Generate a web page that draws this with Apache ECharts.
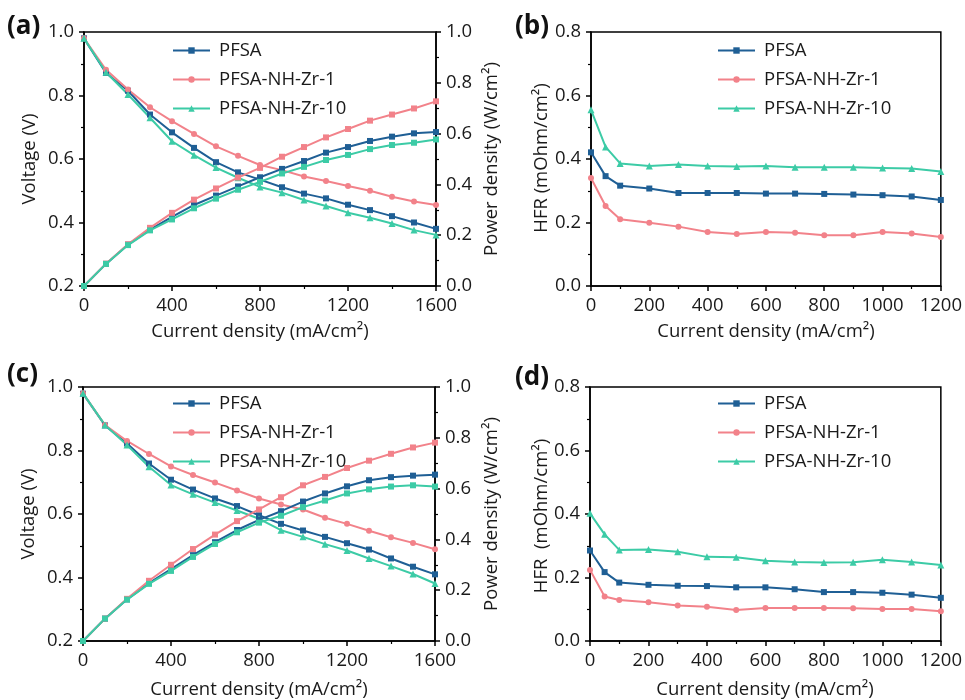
<!DOCTYPE html>
<html>
<head>
<meta charset="utf-8">
<script src="https://cdn.jsdelivr.net/npm/echarts@6/dist/echarts.min.js"></script>
<style>
  html, body { margin: 0; padding: 0; background: #fff; }
  #chart { width: 965px; height: 700px; }
</style>
</head>
<body>
<div id="chart"></div>
<script>
// ---- Polarization data (current density in mA/cm²) ----
const currentPol = [0, 100, 200, 300, 400, 500, 600, 700, 800, 900, 1000, 1100, 1200, 1300, 1400, 1500, 1600];
const currentHFR = [0, 50, 100, 200, 300, 400, 500, 600, 700, 800, 900, 1000, 1100, 1200];

const seriesNames = ['PFSA', 'PFSA-NH-Zr-1', 'PFSA-NH-Zr-10'];

// (a) voltage (V) and power density (W/cm²)
const voltA_PFSA  = [0.980, 0.871, 0.815, 0.740, 0.684, 0.635, 0.590, 0.558, 0.535, 0.511, 0.491, 0.476, 0.456, 0.439, 0.420, 0.400, 0.380];
const voltA_Zr1   = [0.980, 0.881, 0.819, 0.763, 0.719, 0.679, 0.640, 0.610, 0.581, 0.565, 0.545, 0.531, 0.515, 0.500, 0.481, 0.466, 0.455];
const voltA_Zr10  = [0.980, 0.873, 0.803, 0.730, 0.656, 0.612, 0.573, 0.541, 0.512, 0.494, 0.471, 0.452, 0.431, 0.415, 0.397, 0.376, 0.361];
const powerA_PFSA = [0, 0.087, 0.163, 0.222, 0.272, 0.319, 0.356, 0.392, 0.428, 0.461, 0.492, 0.525, 0.547, 0.571, 0.588, 0.601, 0.606];
const powerA_Zr1  = [0, 0.088, 0.164, 0.229, 0.288, 0.340, 0.384, 0.427, 0.465, 0.509, 0.547, 0.585, 0.618, 0.651, 0.675, 0.699, 0.727];
const powerA_Zr10 = [0, 0.087, 0.161, 0.219, 0.262, 0.306, 0.344, 0.379, 0.410, 0.443, 0.469, 0.496, 0.516, 0.539, 0.555, 0.564, 0.577];

// (c) voltage (V) and power density (W/cm²)
const voltC_PFSA  = [0.979, 0.879, 0.822, 0.759, 0.708, 0.677, 0.649, 0.625, 0.596, 0.569, 0.548, 0.528, 0.508, 0.488, 0.460, 0.434, 0.410];
const voltC_Zr1   = [0.980, 0.880, 0.830, 0.789, 0.750, 0.723, 0.699, 0.674, 0.649, 0.630, 0.614, 0.588, 0.569, 0.547, 0.527, 0.509, 0.489];
const voltC_Zr10  = [0.980, 0.880, 0.817, 0.749, 0.691, 0.662, 0.636, 0.611, 0.585, 0.549, 0.528, 0.505, 0.485, 0.460, 0.436, 0.411, 0.381];
const powerC_PFSA = [0, 0.088, 0.164, 0.228, 0.283, 0.338, 0.389, 0.437, 0.477, 0.511, 0.549, 0.581, 0.609, 0.633, 0.645, 0.651, 0.655];
const powerC_Zr1  = [0, 0.088, 0.166, 0.237, 0.300, 0.362, 0.419, 0.472, 0.518, 0.566, 0.613, 0.646, 0.681, 0.710, 0.737, 0.762, 0.781];
const powerC_Zr10 = [0, 0.088, 0.163, 0.225, 0.276, 0.331, 0.382, 0.428, 0.466, 0.493, 0.527, 0.553, 0.581, 0.597, 0.608, 0.613, 0.608];

// (b) and (d) high-frequency resistance (mOhm/cm²)
const hfrB_PFSA = [0.421, 0.346, 0.316, 0.307, 0.293, 0.293, 0.293, 0.291, 0.291, 0.290, 0.288, 0.286, 0.282, 0.271];
const hfrB_Zr1  = [0.340, 0.252, 0.210, 0.199, 0.187, 0.170, 0.164, 0.170, 0.168, 0.160, 0.160, 0.170, 0.165, 0.154];
const hfrB_Zr10 = [0.555, 0.438, 0.386, 0.378, 0.383, 0.378, 0.376, 0.378, 0.374, 0.374, 0.374, 0.372, 0.370, 0.361];
const hfrD_PFSA = [0.285, 0.217, 0.184, 0.177, 0.174, 0.173, 0.169, 0.169, 0.163, 0.154, 0.154, 0.152, 0.146, 0.136];
const hfrD_Zr1  = [0.224, 0.140, 0.129, 0.122, 0.112, 0.108, 0.098, 0.104, 0.104, 0.104, 0.103, 0.101, 0.101, 0.094];
const hfrD_Zr10 = [0.402, 0.336, 0.287, 0.288, 0.281, 0.265, 0.264, 0.253, 0.249, 0.247, 0.248, 0.256, 0.249, 0.239];

// Axis tick values
const polXTicks   = [0, 400, 800, 1200, 1600];
const hfrXTicks   = [0, 200, 400, 600, 800, 1000, 1200];
const voltTicks   = [0.2, 0.4, 0.6, 0.8, 1.0];
const powerTicks  = [0.0, 0.2, 0.4, 0.6, 0.8, 1.0];
const hfrTicks    = [0.0, 0.2, 0.4, 0.6, 0.8];

// Axis titles
const xTitle = 'Current density (mA/cm²)';
const voltTitle = 'Voltage (V)';
const powerTitle = 'Power density (W/cm²)';
const hfrTitleB = 'HFR (mOhm/cm²)';
const hfrTitleD = 'HFR  (mOhm/cm²)';

// ---- Styling ----
const COLORS = ['#1f5f95', '#f2828a', '#3ccba6'];
const SYMBOLS = ['rect', 'circle', 'triangle'];
const FONT = '"Open Sans", sans-serif';
const TXT = '#1a1a1a';
const FS = 18.5;

const grids = [
  { left: 84,  top: 32,  width: 352, height: 254 },  // a
  { left: 591, top: 32,  width: 351, height: 254 },  // b
  { left: 83,  top: 387, width: 352, height: 254 },  // c
  { left: 590, top: 387, width: 351, height: 254 }   // d
];

function span(t) { return { min: t[0], max: t[t.length - 1], interval: +(t[1] - t[0]).toFixed(6) }; }

function axisBase(ticks, decimals) {
  const s = span(ticks);
  return Object.assign({
    type: 'value',
    axisLine: { show: true, onZero: false, lineStyle: { color: '#000', width: 1.5 } },
    axisTick: { show: true, inside: false, length: 5, lineStyle: { color: '#000', width: 1.5 } },
    minorTick: { show: true, splitNumber: 2, length: 3, lineStyle: { color: '#000', width: 1.2 } },
    splitLine: { show: false },
    axisLabel: {
      margin: 10, color: TXT, fontFamily: FONT, fontSize: FS,
      formatter: v => decimals ? v.toFixed(decimals) : String(Math.round(v))
    }
  }, s);
}

const xAxes = [], yAxes = [], series = [], legends = [];

function xAxisFor(gridIndex, ticks) {
  xAxes.push(Object.assign(axisBase(ticks, 0), { gridIndex, position: 'bottom' }));
  return xAxes.length - 1;
}
function yAxisFor(gridIndex, ticks, pos) {
  yAxes.push(Object.assign(axisBase(ticks, 1), { gridIndex, position: pos }));
  return yAxes.length - 1;
}
function addLine(name, xs, ys, xi, yi, k, symbol) {
  const sym = symbol || SYMBOLS[k];
  series.push({
    type: 'line', name, xAxisIndex: xi, yAxisIndex: yi,
    data: xs.map((x, i) => [x, ys[i]]),
    symbol: sym, symbolSize: sym === 'triangle' ? 7 : 6,
    lineStyle: { color: COLORS[k], width: 2 },
    itemStyle: { color: COLORS[k] },
    clip: false, animation: false
  });
}
function addLegend(left, top) {
  legends.push({
    data: seriesNames, orient: 'vertical', left, top,
    itemWidth: 37, itemHeight: 8, itemGap: 10,
    selectedMode: false,
    textStyle: { color: TXT, fontFamily: FONT, fontSize: FS, lineHeight: 18, padding: [0, 0, 0, 4] }
  });
}

// Polarization panels (a) and (c): voltage on the left axis, power density on the right
function polPanel(g, volts, powers) {
  const xi = xAxisFor(g, polXTicks);
  const yl = yAxisFor(g, voltTicks, 'left');
  const yr = yAxisFor(g, powerTicks, 'right');
  volts.forEach((v, k) => addLine(seriesNames[k], currentPol, v, xi, yl, k));
  powers.forEach((p, k) => addLine(seriesNames[k] + ' power', currentPol, p, xi, yr, k, 'rect'));
}
// HFR panels (b) and (d)
function hfrPanel(g, hfrs) {
  const xi = xAxisFor(g, hfrXTicks);
  const yl = yAxisFor(g, hfrTicks, 'left');
  hfrs.forEach((h, k) => addLine(seriesNames[k], currentHFR, h, xi, yl, k));
}

polPanel(0, [voltA_PFSA, voltA_Zr1, voltA_Zr10], [powerA_PFSA, powerA_Zr1, powerA_Zr10]);
hfrPanel(1, [hfrB_PFSA, hfrB_Zr1, hfrB_Zr10]);
polPanel(2, [voltC_PFSA, voltC_Zr1, voltC_Zr10], [powerC_PFSA, powerC_Zr1, powerC_Zr10]);
hfrPanel(3, [hfrD_PFSA, hfrD_Zr1, hfrD_Zr10]);

addLegend(167, 36);
addLegend(712, 36);
addLegend(167, 389);
addLegend(712, 389);

// Titles: [text, centre x, centre y, vertical?]
const titles = [
  [xTitle, 260, 332, false], [xTitle, 766, 332, false],
  [xTitle, 259, 690, false], [xTitle, 765, 690, false],
  [voltTitle, 30, 159, true], [voltTitle, 29, 514, true],
  [powerTitle, 492, 159, true], [powerTitle, 492, 514, true],
  [hfrTitleB, 542, 158, true], [hfrTitleD, 542, 516, true]
];
const panelLabels = [['(a)', 7, 27], ['(b)', 515, 27], ['(c)', 7, 375], ['(d)', 515, 378]];

const graphics = titles.map(([t, x, y, vert]) => ({
  type: 'text', x, y, rotation: vert ? Math.PI / 2 : 0,
  style: { text: t, fontFamily: FONT, fontSize: FS, fill: TXT, align: 'center', verticalAlign: 'middle' }
})).concat(panelLabels.map(([t, x, y]) => ({
  type: 'text', x, y,
  style: { text: t, fontFamily: FONT, fontWeight: 'bold', fontSize: 26, fill: '#111', align: 'left', verticalAlign: 'middle' }
})));

const chart = echarts.init(document.getElementById('chart'), null, { renderer: 'canvas' });
chart.setOption({
  backgroundColor: '#fff',
  animation: false,
  grid: grids.map(g => Object.assign({ show: true, borderColor: '#000', borderWidth: 1.5, backgroundColor: 'transparent' }, g)),
  xAxis: xAxes,
  yAxis: yAxes,
  legend: legends,
  series,
  graphic: graphics
});
</script>
</body>
</html>
